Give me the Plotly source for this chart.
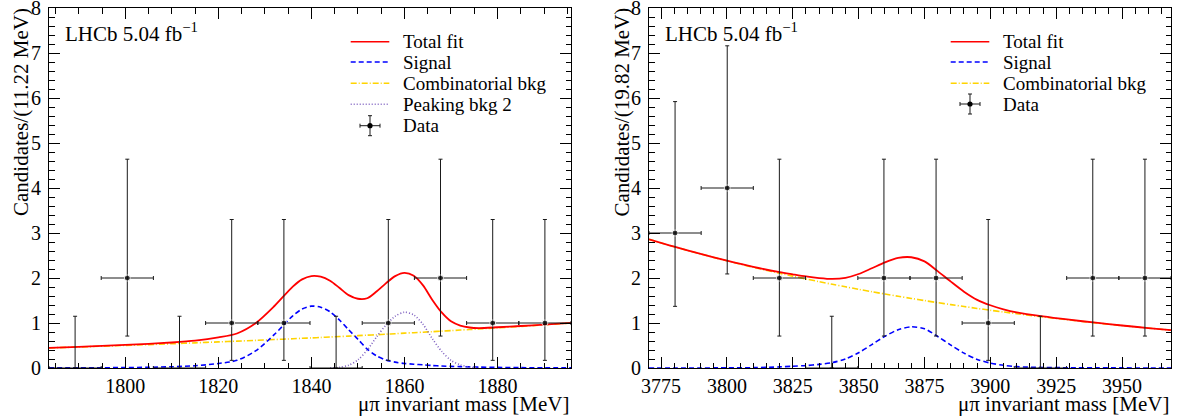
import plotly.graph_objects as go

# ---------------- data ----------------
# Left panel: bin width 11.22 MeV
left_range = [1783.6, 1895.8]
left_ticks = [1800, 1820, 1840, 1860, 1880]
left_bin_half = 5.61
left_centers = [1789.21, 1800.43, 1811.65, 1822.87, 1834.09, 1845.31, 1856.53, 1867.75, 1878.97, 1890.19]
left_counts = [0, 2, 0, 1, 1, 0, 1, 2, 1, 1]
left_err_hi = [1.15, 2.64, 1.15, 2.30, 2.30, 1.15, 2.30, 2.64, 2.30, 2.30]
left_err_lo = [0.00, 1.29, 0.00, 0.83, 0.83, 0.00, 0.83, 1.29, 0.83, 0.83]

left_curve_x = [1783.6, 1790, 1795, 1800, 1805, 1810, 1815, 1820, 1824, 1828, 1832, 1836, 1838,
                1840, 1842, 1844, 1846, 1848, 1850, 1852, 1854, 1856, 1858, 1860, 1862, 1864,
                1866, 1868, 1870, 1872, 1874, 1876, 1880, 1885, 1890, 1895.8]
left_comb = [0.446, 0.467, 0.484, 0.502, 0.520, 0.539, 0.559, 0.580, 0.597, 0.614, 0.632, 0.650, 0.660,
             0.669, 0.679, 0.689, 0.699, 0.709, 0.719, 0.730, 0.740, 0.751, 0.762, 0.774, 0.785, 0.796,
             0.808, 0.819, 0.831, 0.843, 0.855, 0.868, 0.893, 0.925, 0.960, 1.000]
left_signal = [0.002, 0.004, 0.006, 0.010, 0.016, 0.028, 0.05, 0.10, 0.17, 0.38, 0.74, 1.16, 1.31,
               1.375, 1.35, 1.25, 1.07, 0.85, 0.64, 0.42, 0.27, 0.18, 0.13, 0.10, 0.085, 0.07,
               0.055, 0.045, 0.036, 0.03, 0.025, 0.02, 0.013, 0.008, 0.005, 0.003]
left_peak_x = [1844, 1846, 1848, 1850, 1852, 1854, 1856, 1858, 1860, 1862, 1864, 1866, 1868,
               1870, 1872, 1874, 1876]
left_peak = [0.0, 0.015, 0.06, 0.18, 0.40, 0.69, 0.95, 1.15, 1.24, 1.18, 0.97, 0.65, 0.37,
             0.17, 0.07, 0.02, 0.0]
left_total = [0.448, 0.471, 0.490, 0.512, 0.536, 0.567, 0.609, 0.680, 0.767, 0.994, 1.372, 1.810, 1.970,
              2.044, 2.029, 1.939, 1.784, 1.619, 1.539, 1.550, 1.700, 1.881, 2.042, 2.114, 2.050, 1.836,
              1.513, 1.234, 1.037, 0.943, 0.900, 0.888, 0.906, 0.933, 0.965, 1.003]

# Right panel: bin width 19.82 MeV
right_range = [3770.4, 3968.6]
right_ticks = [3775, 3800, 3825, 3850, 3875, 3900, 3925, 3950]
right_bin_half = 9.91
right_centers = [3780.3, 3800.1, 3819.9, 3839.8, 3859.6, 3879.4, 3899.2, 3919.0, 3938.9, 3958.7]
right_counts = [3, 4, 2, 0, 2, 2, 1, 0, 2, 2]
right_err_hi = [2.92, 3.16, 2.64, 1.15, 2.64, 2.64, 2.30, 1.15, 2.64, 2.64]
right_err_lo = [1.63, 1.91, 1.29, 0.00, 1.29, 1.29, 0.83, 0.00, 1.29, 1.29]

right_curve_x = [3770.4, 3780, 3790, 3800, 3810, 3820, 3825, 3830, 3835, 3840, 3845, 3850, 3855,
                 3860, 3865, 3870, 3875, 3880, 3885, 3890, 3895, 3900, 3905, 3910, 3920, 3930,
                 3940, 3950, 3960, 3968.6]
right_comb = [2.860, 2.695, 2.534, 2.382, 2.239, 2.105, 2.041, 1.979, 1.919, 1.860, 1.804, 1.749, 1.696,
              1.644, 1.594, 1.546, 1.498, 1.453, 1.409, 1.366, 1.324, 1.284, 1.245, 1.207, 1.135, 1.067,
              1.003, 0.943, 0.886, 0.840]
right_signal = [0.0, 0.0, 0.001, 0.003, 0.008, 0.025, 0.04, 0.055, 0.08, 0.12, 0.20, 0.34, 0.52,
                0.704, 0.852, 0.915, 0.872, 0.70, 0.51, 0.33, 0.19, 0.11, 0.06, 0.03, 0.012, 0.006,
                0.003, 0.002, 0.001, 0.0]
right_total = [2.860, 2.695, 2.535, 2.385, 2.247, 2.130, 2.081, 2.034, 1.999, 1.980, 2.004, 2.089, 2.216,
               2.348, 2.446, 2.461, 2.370, 2.153, 1.919, 1.696, 1.514, 1.394, 1.305, 1.237, 1.147, 1.073,
               1.006, 0.945, 0.887, 0.840]

lumi_text = "LHCb 5.04 fb<sup>\u22121</sup>"
xtitle = "\u03bc\u03c0 invariant mass [MeV]"
left_ytitle = "Candidates/(11.22 MeV)"
right_ytitle = "Candidates/(19.82 MeV)"

# ---------------- styling ----------------
FONT = "Liberation Serif, Times New Roman, Times, DejaVu Serif, serif"
RED, BLUE, YELLOW, PURPLE = "#ff0000", "#0000ff", "#ffd400", "#7e60c0"
ERR = "#1a1a1a"
W, H = 1182, 416
ML, MR, MT, MB = 49, 11, 8, 48
PW, PH = W - ML - MR, H - MT - MB


def fx(px):
    return (px - ML) / PW


def fy(py):
    return (H - MB - py) / PH


fig = go.Figure()


def add_curve(x, y, color, dash, width, xa, ya):
    fig.add_trace(go.Scatter(x=x, y=y, mode="lines", xaxis=xa, yaxis=ya, showlegend=False,
                             line=dict(color=color, dash=dash, width=width, shape="spline", smoothing=0.8),
                             hoverinfo="skip"))


def add_data(x, y, hi, lo, half, xa, ya):
    fig.add_trace(go.Scatter(
        x=x, y=y, mode="markers", xaxis=xa, yaxis=ya, showlegend=False,
        marker=dict(color="black", size=[0 if v == 0 else 6 for v in y]),
        error_x=dict(type="constant", value=half, color=ERR, thickness=1, width=2),
        error_y=dict(type="data", symmetric=False, array=hi, arrayminus=lo, color=ERR,
                     thickness=1, width=2)))


# left panel
add_curve(left_curve_x, left_comb, YELLOW, "6px,2px,1px,2px", 1.6, "x", "y")
add_curve(left_curve_x, left_signal, BLUE, "5px,3px", 1.6, "x", "y")
add_curve(left_peak_x, left_peak, PURPLE, "1px,2px", 1.6, "x", "y")
add_curve(left_curve_x, left_total, RED, "solid", 1.8, "x", "y")
add_data(left_centers, left_counts, left_err_hi, left_err_lo, left_bin_half, "x", "y")
# right panel
add_curve(right_curve_x, right_comb, YELLOW, "6px,2px,1px,2px", 1.6, "x2", "y2")
add_curve(right_curve_x, right_signal, BLUE, "5px,3px", 1.6, "x2", "y2")
add_curve(right_curve_x, right_total, RED, "solid", 1.8, "x2", "y2")
add_data(right_centers, right_counts, right_err_hi, right_err_lo, right_bin_half, "x2", "y2")

tickfont = dict(family=FONT, size=20, color="black")
axis_common = dict(showline=True, linecolor="black", linewidth=1, mirror="allticks",
                   ticks="inside", ticklen=11, tickwidth=1, tickcolor="black", automargin=False,
                   showgrid=False, zeroline=False, tickfont=tickfont, ticklabeloverflow="allow")

fig.update_layout(
    width=W, height=H, margin=dict(l=ML, r=MR, t=MT, b=MB, autoexpand=False),
    paper_bgcolor="white", plot_bgcolor="white", showlegend=False,
    font=dict(family=FONT, size=20, color="black"),
    xaxis=dict(domain=[fx(49), fx(571)], range=left_range, anchor="y", tickmode="array",
               tickvals=left_ticks, ticklabelstandoff=0,
               minor=dict(ticks="inside", ticklen=5.5, tickcolor="black", dtick=5, tick0=1800),
               **axis_common),
    xaxis2=dict(domain=[fx(649), 1.0], range=right_range, anchor="y2", tickmode="array",
                tickvals=right_ticks, ticklabelstandoff=0,
                minor=dict(ticks="inside", ticklen=5.5, tickcolor="black", dtick=5, tick0=3775),
                **axis_common),
    yaxis=dict(domain=[0, 1], range=[0, 8], anchor="x", dtick=1, tick0=0, ticklabelstandoff=3,
               minor=dict(ticks="inside", ticklen=5.5, tickcolor="black", dtick=0.2, tick0=0),
               **axis_common),
    yaxis2=dict(domain=[0, 1], range=[0, 8], anchor="x2", dtick=1, tick0=0, ticklabelstandoff=3,
                minor=dict(ticks="inside", ticklen=5.5, tickcolor="black", dtick=0.2, tick0=0),
                **axis_common),
)

ann = []
shapes = []


def text(px, py, s, size, xanchor="left", yanchor="middle", angle=0):
    ann.append(dict(x=fx(px), y=fy(py), xref="paper", yref="paper", text=s, showarrow=False,
                    xanchor=xanchor, yanchor=yanchor, textangle=angle, borderpad=0, borderwidth=0,
                    font=dict(family=FONT, size=size, color="black")))


def seg(x0, y0, x1, y1, color, dash="solid", width=1.6):
    shapes.append(dict(type="line", xref="paper", yref="paper", x0=fx(x0), y0=fy(y0),
                       x1=fx(x1), y1=fy(y1), line=dict(color=color, dash=dash, width=width)))


def data_symbol(cx, cy):
    seg(cx - 10, cy, cx + 10, cy, ERR, width=1)
    seg(cx, cy - 10, cx, cy + 10, ERR, width=1)
    seg(cx - 10, cy - 2, cx - 10, cy + 2, ERR, width=1)
    seg(cx + 10, cy - 2, cx + 10, cy + 2, ERR, width=1)
    seg(cx - 2, cy - 10, cx + 2, cy - 10, ERR, width=1)
    seg(cx - 2, cy + 10, cx + 2, cy + 10, ERR, width=1)
    shapes.append(dict(type="circle", xref="paper", yref="paper", x0=fx(cx - 2.6), x1=fx(cx + 2.6),
                       y0=fy(cy + 2.6), y1=fy(cy - 2.6), fillcolor="black", line=dict(width=0)))


# titles and labels
for x0, x1, ytitle in [(49, 571, left_ytitle), (649, 1171, right_ytitle)]:
    text(x0 + 16, 33, lumi_text, 21)
    text(x1 - 2, 404, xtitle, 21, xanchor="right")
    text(x0 - 28, 8, ytitle, 21, xanchor="center", yanchor="top", angle=-90)

# legends
for lx, entries, data_row in [
    (350.7, [("Total fit", RED, "solid"), ("Signal", BLUE, "5px,3px"),
             ("Combinatorial bkg", YELLOW, "6px,2px,1px,2px"), ("Peaking bkg 2", PURPLE, "1px,2px")], 125.7),
    (950.7, [("Total fit", RED, "solid"), ("Signal", BLUE, "5px,3px"),
             ("Combinatorial bkg", YELLOW, "6px,2px,1px,2px")], 104.0),
]:
    rows = [41.7, 62.0, 83.3, 104.3]
    for (label, color, dash), ry in zip(entries, rows):
        seg(lx, ry, lx + 38.6, ry, color, dash, 1.6)
        text(lx + 52.6, ry, label, 19)
    data_symbol(lx + 19.3, data_row)
    text(lx + 52.6, data_row, "Data", 19)

fig.update_layout(annotations=ann, shapes=shapes)
fig.write_html("out.html")
